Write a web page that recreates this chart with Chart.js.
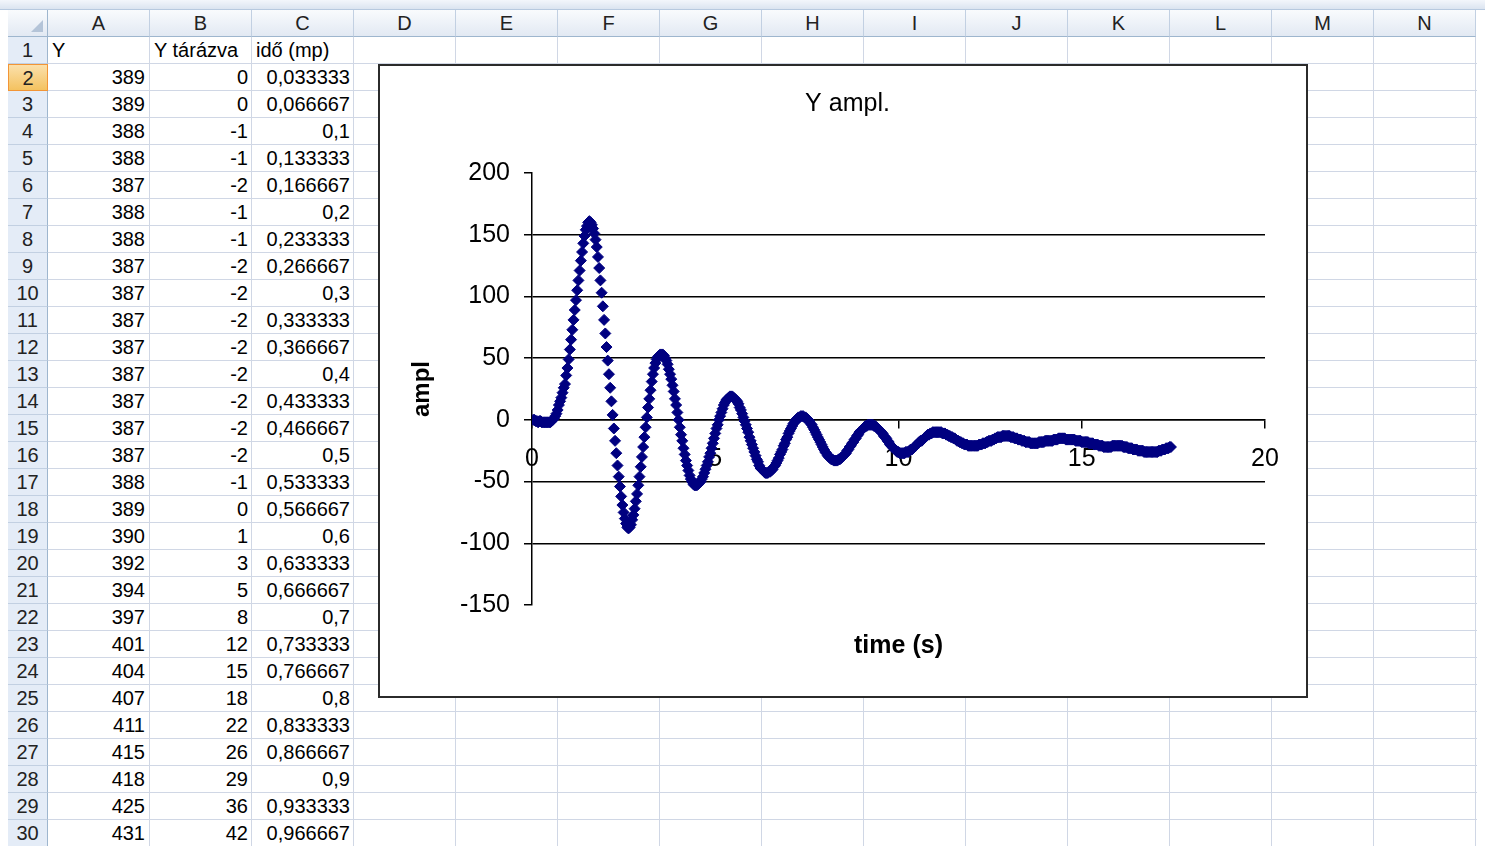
<!DOCTYPE html>
<html>
<head>
<meta charset="utf-8">
<title>Y ampl.</title>
<script src="https://cdn.jsdelivr.net/npm/chart.js"></script>
<style>
  body {
    margin: 0; width: 1485px; height: 846px; overflow: hidden; background: #fff; position: relative;
    font-family: "Liberation Sans", Arial, sans-serif; font-size: 20px; color: #000;
  }
  .abs { position: absolute; box-sizing: border-box; }
  .topbar { left: 0; top: 0; width: 1485px; height: 10px; background: linear-gradient(#f3f6fb, #dbe4f0); border-bottom: 1px solid #b7c9df; }
  .colhead {
    top: 10px; height: 27px; line-height: 26px; text-align: center; color: #222;
    background: linear-gradient(#f9fbfd, #e2e9f3); border-right: 1px solid #c2d0e2; border-bottom: 1px solid #9eb6ce;
  }
  .corner { left: 8px; top: 10px; width: 40px; height: 27px; background: linear-gradient(#f9fbfd, #e2e9f3);
    border-right: 1px solid #9eb6ce; border-bottom: 1px solid #9eb6ce; }
  .tri { right: 4px; bottom: 4px; width: 0; height: 0; border-left: 12px solid transparent; border-bottom: 12px solid #b4c4d8; }
  .rowhead {
    left: 8px; width: 40px; height: 27px; line-height: 26px; text-align: center; color: #222;
    background: #e4ecf7; border-bottom: 1px solid #c2d0e2; border-right: 1px solid #9eb6ce;
  }
  .rowhead.sel { background: linear-gradient(#fbe0ab, #f4c260); border: 1px solid #f29536; }
  .vline { top: 37px; width: 1px; height: 809px; background: #d0d7e5; }
  .hline { left: 48px; width: 1429px; height: 1px; background: #d0d7e5; }
  .cell { height: 27px; line-height: 27px; white-space: nowrap; }
  #chartBox { left: 378px; top: 64px; width: 930px; height: 634px; border: 2px solid #2b2b2b; background: #fff; z-index: 5; }
</style>
</head>
<body>
<div class="abs topbar"></div>
<div class="abs corner"><div class="abs tri"></div></div>
<div id="sheet"></div>
<div id="chartBox" class="abs">
  <canvas id="chart" width="926" height="630"></canvas>
</div>
<script>
  // spreadsheet columns and row 1 headers
  const columns = ['A', 'B', 'C', 'D', 'E', 'F', 'G', 'H', 'I', 'J', 'K', 'L', 'M', 'N'];
  const headers = ['Y', 'Y tárázva', 'idő (mp)'];
  // column A, rows 2..30
  const yRaw = [389, 389, 388, 388, 387, 388, 388, 387, 387, 387, 387, 387, 387, 387, 387,
    388, 389, 390, 392, 394, 397, 401, 404, 407, 411, 415, 418, 425, 431];
  // Y tárázva, one sample every 1/30 s
  const ampl = [
    0, 0, -1, -1, -2, -1, -1, -2, -2, -2, -2, -2, -2, -2, -2, -1, 0, 1, 3, 5, 8, 12, 15, 18, 22, 26, 29, 36, 42,
    49, 57, 65, 73, 81, 89, 97, 105, 113, 121, 129, 136, 143, 149, 154, 157, 160, 161,
    160, 158, 155, 151, 146, 140, 132, 123, 113, 103, 92, 81, 70, 59, 48, 37, 26, 15, 4, -7, -17, -27, -37, -46, -54, -62, -69, -75, -80, -84, -87, -88,
    -87, -85, -81, -77, -72, -66, -60, -53, -46, -38, -30, -22, -14, -6, 2, 10, 17, 24, 31, 37, 42, 46, 49, 51, 52, 53, 53,
    53, 52, 50, 48, 45, 41, 37, 33, 28, 23, 17, 12, 6, 0, -6, -12, -17, -23, -28, -33, -37, -41, -45, -48, -50, -52, -53, -53,
    -53, -52, -51, -50, -48, -46, -43, -40, -37, -34, -30, -27, -23, -19, -15, -11, -7, -4, 0, 3, 6, 9, 12, 14, 16, 17, 18, 19, 19,
    19, 18, 17, 16, 15, 13, 10, 8, 5, 2, -1, -4, -7, -10, -14, -17, -20, -23, -26, -29, -32, -34, -37, -39, -40, -41, -42, -43, -43,
    -43, -42, -42, -41, -40, -38, -37, -35, -33, -31, -28, -26, -24, -21, -19, -16, -14, -11, -9, -7, -5, -3, -2, 0, 1, 2, 2, 3, 3,
    3, 2, 2, 1, 0, -1, -3, -4, -6, -8, -10, -12, -14, -16, -18, -20, -22, -24, -26, -27, -29, -30, -31, -32, -32, -33, -33,
    -33, -33, -32, -32, -31, -30, -29, -28, -27, -25, -24, -22, -21, -19, -18, -16, -15, -13, -12, -10, -9, -8, -7, -6, -5, -5, -4, -4, -4,
    -4, -4, -5, -5, -6, -7, -8, -9, -10, -11, -13, -14, -15, -17, -18, -20, -21, -22, -23, -24, -25, -26, -26, -27, -27, -27,
    -27, -27, -26, -26, -26, -25, -24, -24, -23, -22, -21, -20, -19, -18, -17, -17, -16, -15, -14, -13, -12, -12, -11, -11, -10, -10, -10, -10,
    -10, -10, -10, -10, -11, -11, -11, -12, -12, -13, -13, -14, -14, -15, -15, -16, -17, -17, -18, -18, -19, -19, -20, -20, -20, -21, -21, -21, -21, -21,
    -21, -21, -21, -21, -20, -20, -20, -19, -19, -19, -18, -18, -17, -17, -17, -16, -16, -15, -15, -14, -14, -14, -14, -13, -13, -13, -13, -13,
    -13, -13, -14, -14, -14, -15, -15, -15, -16, -16, -16, -17, -17, -17, -18, -18, -18, -18, -19, -19, -19,
    -19, -19, -19, -19, -18, -18, -18, -18, -18, -17, -17, -17, -17, -17,
    -17, -17, -16, -16, -16, -16, -15, -15, -15, -15, -15, -15, -16, -16, -16, -16, -16, -16, -16,
    -16, -17, -17, -17, -17, -17, -18, -18, -18, -18, -18,
    -18, -19, -19, -19, -19, -20, -20, -20, -20, -21, -21, -21, -21, -22, -22, -22, -22,
    -22, -22, -22, -21, -21, -21, -21, -21, -21, -21,
    -21, -21, -22, -22, -22, -22, -23, -23, -23, -23, -24, -24, -24, -24, -25, -25, -25,
    -25, -25, -26, -26, -26, -26, -26, -26, -26, -26, -26,
    -26, -26, -26, -25, -25, -25, -24, -24, -24, -23, -23, -23, -22, -22
  ];
  const sampleStep = 1 / 30;   // idő (mp)
  const xTicks = [0, 20, 5];   // min, max, step
  const yTicks = [-150, 200, 50];

  const FONT = "'Liberation Sans', Arial, sans-serif";
  const COL_W = 102, X0 = 48, ROW_TOP = 37, ROW_H = 27, ROWS = 30;

  function timeOf(i) { return (i + 1) * sampleStep; }
  function fmt(v) { return String(+v.toFixed(6)).replace('.', ','); }

  function addDiv(cls, css, text) {
    const d = document.createElement('div');
    d.className = 'abs ' + cls;
    Object.assign(d.style, css);
    if (text !== undefined) d.textContent = text;
    document.getElementById('sheet').appendChild(d);
    return d;
  }

  function drawSheet() {
    columns.forEach((c, i) => {
      addDiv('colhead', { left: (X0 + i * COL_W) + 'px', width: COL_W + 'px' }, c);
      addDiv('vline', { left: (X0 + (i + 1) * COL_W - 1) + 'px' });
    });
    for (let r = 1; r <= ROWS; r++) {
      const top = ROW_TOP + (r - 1) * ROW_H;
      addDiv('rowhead' + (r === 2 ? ' sel' : ''), { top: top + 'px' }, r);
      addDiv('hline', { top: (top + ROW_H - 1) + 'px' });
    }
    headers.forEach((h, i) => {
      addDiv('cell', { left: (X0 + i * COL_W + 4) + 'px', top: ROW_TOP + 'px' }, h);
    });
    for (let i = 0; i < ROWS - 1; i++) {
      const top = ROW_TOP + (i + 1) * ROW_H;
      const vals = [yRaw[i], ampl[i], fmt(timeOf(i))];
      vals.forEach((v, c) => {
        addDiv('cell', { left: (X0 + c * COL_W) + 'px', width: COL_W + 'px', top: top + 'px',
          textAlign: 'right', paddingRight: (c === 0 ? 5 : 4) + 'px' }, v);
      });
    }
  }

  function drawChart() {
    const points = ampl.map((v, i) => ({ x: timeOf(i), y: v }));
    const tickFont = { family: FONT, size: 25 };
    new Chart(document.getElementById('chart'), {
      type: 'scatter',
      data: {
        datasets: [{
          data: points, xAxisID: 'x', yAxisID: 'y', showLine: false,
          pointStyle: 'rectRot', pointRadius: 5.5, pointBorderWidth: 1,
          backgroundColor: '#000080', borderColor: '#000080'
        }]
      },
      options: {
        responsive: false, animation: false, events: [],
        // left padding keeps the title centred where Excel put it
        layout: { padding: { left: 50, right: 41, top: 0, bottom: 0 } },
        plugins: {
          legend: { display: false },
          tooltip: { enabled: false },
          title: {
            display: true, text: 'Y ampl.', color: '#000',
            font: { family: FONT, size: 25, weight: 'normal' },
            padding: { top: 23, bottom: 54 }
          }
        },
        scales: {
          x: {
            type: 'linear', position: { y: 0 }, min: xTicks[0], max: xTicks[1],
            ticks: { stepSize: xTicks[2], color: '#000', font: tickFont, padding: 16 },
            grid: { drawOnChartArea: false, drawTicks: true, tickLength: 8, tickColor: '#000', lineWidth: 1.5 },
            border: { display: true, color: '#000', width: 1.5 }
          },
          xTitle: {
            type: 'linear', position: 'bottom', min: xTicks[0], max: xTicks[1],
            ticks: { display: false }, grid: { display: false }, border: { display: false },
            title: { display: true, text: 'time (s)', color: '#000',
              font: { family: FONT, size: 25, weight: 'bold' }, padding: { top: 0, bottom: 35 } },
            afterFit: s => { s.height = 91; }
          },
          y: {
            type: 'linear', position: 'left', min: yTicks[0], max: yTicks[1],
            ticks: { stepSize: yTicks[2], color: '#000', font: tickFont, padding: 14 },
            grid: {
              color: ctx => (ctx.tick && (ctx.tick.value === yTicks[0] || ctx.tick.value === yTicks[1])) ? 'rgba(0,0,0,0)' : '#000',
              tickColor: '#000', tickLength: 8, lineWidth: 1.5
            },
            border: { color: '#000', width: 1.5 },
            title: { display: true, text: 'ampl', color: '#000',
              font: { family: FONT, size: 24, weight: 'bold' }, padding: { top: -22, bottom: 0 } },
            afterFit: s => { s.width = 102; }
          }
        }
      }
    });
  }

  drawSheet();
  drawChart();
</script>
</body>
</html>
